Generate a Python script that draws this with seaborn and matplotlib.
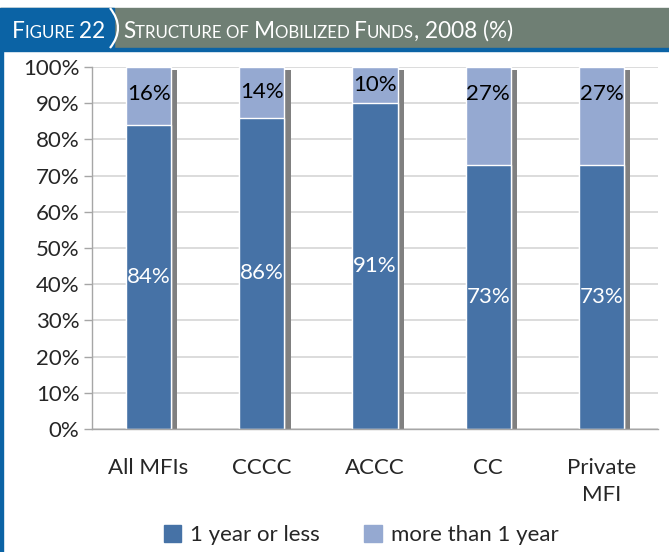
import numpy as np
import pandas as pd
import seaborn as sns
import matplotlib.pyplot as plt
from matplotlib.patches import Rectangle, PathPatch, Patch
from matplotlib.path import Path

# data
categories = ['All MFIs', 'CCCC', 'ACCC', 'CC', 'Private\nMFI']
short_term = [84, 86, 91, 73, 73]   # 1 year or less
long_term = [16, 14, 10, 27, 27]    # more than 1 year
series_names = ['1 year or less', 'more than 1 year']
yticks = [0, 10, 20, 30, 40, 50, 60, 70, 80, 90, 100]

dark = '#4672a6'
light = '#95a9d1'
shadow_col = '#808080'
hdr_blue = '#0b63a5'
hdr_gray = '#6f7f74'
FS = 16

sns.set_theme(style='white')
plt.rcParams['font.family'] = ['Lato', 'DejaVu Sans']

df = pd.DataFrame({'cat': categories, 'short': short_term, 'long': long_term})
df['total'] = df['short'] + df['long']
df['short_pct'] = df['short'] / df['total'] * 100   # 100% stacked
df['top'] = 100.0

W, H = 669, 552
fig = plt.figure(figsize=(W / 100, H / 100), dpi=100)
ax = fig.add_axes([92 / W, 123 / H, 566 / W, 362 / H])

# shadow bars, shifted a bit right/down
sns.barplot(data=df, x='cat', y='top', color=shadow_col, width=0.4,
            saturation=1, errorbar=None, ax=ax, linewidth=0)
for p in ax.patches:
    p.set_x(p.get_x() + 0.055)
    p.set_height(p.get_height() - 0.9)

sns.barplot(data=df, x='cat', y='top', color=light, width=0.4, saturation=1,
            errorbar=None, ax=ax, edgecolor='white', linewidth=1)
sns.barplot(data=df, x='cat', y='short_pct', color=dark, width=0.4, saturation=1,
            errorbar=None, ax=ax, edgecolor='white', linewidth=1)

for i, row in df.iterrows():
    ax.text(i, row['short_pct'] / 2, f"{row['short']}%", color='white',
            ha='center', va='center', fontsize=FS)
    # upper labels sit near the top of the bar
    ly = max((row['short_pct'] + 100) / 2, 92.5)
    ax.text(i, ly, f"{row['long']}%", color='black',
            ha='center', va='center', fontsize=FS)

ax.set_ylim(0, 100)
ax.set_xlim(-0.5, len(categories) - 0.5)
ax.set_yticks(yticks)
ax.set_yticklabels([f'{v}%' for v in yticks], fontsize=FS)
ax.yaxis.grid(True, color='#d9d9d9', lw=1.3)
ax.set_axisbelow(True)
ax.set_xlabel('')
ax.set_ylabel('')
ax.set_xticks(range(len(categories)))
ax.set_xticklabels(categories, fontsize=FS, linespacing=1.4)
ax.set_xticks(np.arange(-0.5, len(categories), 1), minor=True)
ax.tick_params(axis='x', which='major', length=0, pad=21)
ax.tick_params(axis='x', which='minor', length=7, color='#a6a6a6', width=1)
ax.tick_params(axis='y', length=6, color='#a6a6a6', width=1, left=True, pad=3)
for s in ['top', 'right']:
    ax.spines[s].set_visible(False)
for s in ['left', 'bottom']:
    ax.spines[s].set_color('#a6a6a6')
    ax.spines[s].set_linewidth(1)

# legend
handles = [Patch(color=dark), Patch(color=light)]
fig.legend(handles, series_names, loc='center', bbox_to_anchor=(0.54, 0.031),
           ncol=2, frameon=False, fontsize=FS, handlelength=0.8,
           handleheight=0.8, handletextpad=0.4, columnspacing=2.0,
           borderpad=0)

# header band
def fy(px):
    return 1 - px / H

fig.patches.append(Rectangle((0, fy(48)), 1, 40 / H, transform=fig.transFigure,
                             color=hdr_gray, zorder=0))
fig.patches.append(Rectangle((0, fy(48)), 114 / W, 40 / H, transform=fig.transFigure,
                             color=hdr_blue, zorder=1))
fig.patches.append(Rectangle((0, fy(51)), 1, 3 / H, transform=fig.transFigure,
                             color=hdr_blue, zorder=1))
fig.patches.append(Rectangle((0, 0), 3 / W, fy(48), transform=fig.transFigure,
                             color=hdr_blue, zorder=1))
verts = [(110 / W, fy(8)), (126 / W, fy(28)), (110 / W, fy(48))]
curve = Path(verts, [Path.MOVETO, Path.CURVE3, Path.CURVE3])
fig.patches.append(PathPatch(curve, transform=fig.transFigure, fill=False,
                             edgecolor='white', lw=1.6, zorder=2))


def small_caps(x, y, s, big=16.3, small=12.2):
    # lowercase letters become small capitals
    r = fig.canvas.get_renderer()
    runs = []
    for ch in s:
        lo = ch.islower() or (ch == ' ' and runs and runs[-1][1])
        if runs and runs[-1][1] == lo:
            runs[-1][0] += ch
        else:
            runs.append([ch, lo])
    for txt, lo in runs:
        t = fig.text(x, y, txt.upper(), fontsize=small if lo else big,
                     color='white', va='baseline', ha='left')
        x += t.get_window_extent(r).width / W


small_caps(12 / W, fy(38), 'Figure 22')
small_caps(123 / W, fy(38), 'Structure of Mobilized Funds, 2008 (%)')

fig.savefig('out.png', dpi=100)
